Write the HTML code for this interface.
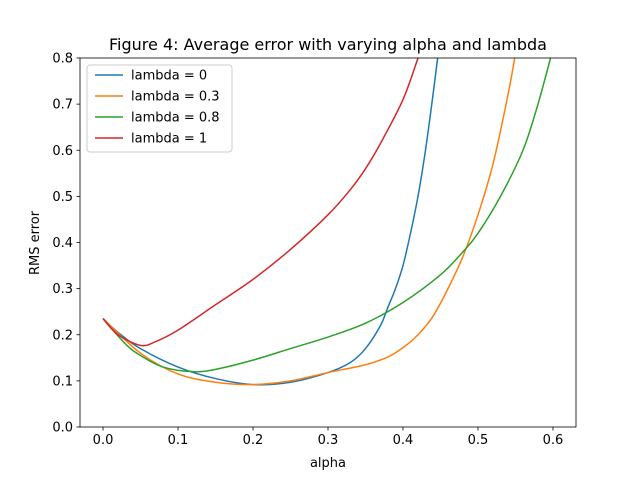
<!DOCTYPE html>
<html><head><meta charset="utf-8"><style>
body{margin:0;background:#fff;}
svg{display:block;font-family:"DejaVu Sans","Liberation Sans",sans-serif;}
</style></head><body>
<svg id="chart" width="640" height="480">
<rect width="640" height="480" fill="#fff"/>
<text x="328" y="50" text-anchor="middle" font-size="16">Figure 4: Average error with varying alpha and lambda</text>
<g id="plot"></g>
<text x="328" y="467" text-anchor="middle" font-size="13">alpha</text>
<text x="0" y="0" transform="translate(39,243) rotate(-90)" text-anchor="middle" font-size="13">RMS error</text>
</svg>
<script>
const xTicks=[0.0,0.1,0.2,0.3,0.4,0.5,0.6];
const yTicks=[0.0,0.1,0.2,0.3,0.4,0.5,0.6,0.7,0.8];
const seriesNames=["lambda = 0","lambda = 0.3","lambda = 0.8","lambda = 1"];
const colors=["#1f77b4","#ff7f0e","#2ca02c","#d62728"];
const alpha0=[0,0.02,0.05,0.1,0.15,0.2,0.25,0.3,0.33,0.35,0.37,0.38,0.39,0.4,0.41,0.42,0.43,0.44,0.45];
const err0=[0.235,0.205,0.17,0.13,0.105,0.092,0.097,0.118,0.14,0.17,0.22,0.26,0.3,0.35,0.42,0.5,0.6,0.72,0.85];
const alpha03=[0,0.05,0.1,0.15,0.2,0.25,0.3,0.35,0.38,0.4,0.42,0.44,0.46,0.48,0.5,0.52,0.54,0.55];
const err03=[0.235,0.16,0.115,0.097,0.092,0.1,0.118,0.135,0.152,0.172,0.2,0.24,0.3,0.37,0.46,0.57,0.72,0.81];
const alpha08=[0,0.03,0.05,0.08,0.12,0.15,0.2,0.25,0.3,0.35,0.4,0.45,0.48,0.5,0.53,0.56,0.58,0.6];
const err08=[0.235,0.18,0.155,0.13,0.12,0.125,0.145,0.17,0.195,0.225,0.27,0.33,0.38,0.42,0.5,0.6,0.7,0.82];
const alpha1=[0,0.02,0.05,0.07,0.1,0.15,0.2,0.25,0.3,0.33,0.35,0.37,0.4,0.42,0.43];
const err1=[0.235,0.2,0.177,0.185,0.21,0.265,0.32,0.385,0.46,0.515,0.56,0.615,0.71,0.8,0.85];
const allX=[alpha0,alpha03,alpha08,alpha1];
const allY=[err0,err03,err08,err1];

const L=80,R=576,T=58,B=427,xmin=-0.0307,xmax=0.6307,ymin=0,ymax=0.8;
const sx=v=>L+(v-xmin)/(xmax-xmin)*(R-L);
const sy=v=>B-(v-ymin)/(ymax-ymin)*(B-T);
const NS="http://www.w3.org/2000/svg";
const g=document.getElementById('plot');
function mk(tag,attrs,parent){const e=document.createElementNS(NS,tag);for(const k in attrs)e.setAttribute(k,attrs[k]);(parent||g).appendChild(e);return e;}
function smooth(pts){
  let d='M'+pts[0][0]+','+pts[0][1];
  for(let i=0;i<pts.length-1;i++){
    const p0=pts[Math.max(i-1,0)],p1=pts[i],p2=pts[i+1],p3=pts[Math.min(i+2,pts.length-1)];
    const c1=[p1[0]+(p2[0]-p0[0])/6,p1[1]+(p2[1]-p0[1])/6];
    const c2=[p2[0]-(p3[0]-p1[0])/6,p2[1]-(p3[1]-p1[1])/6];
    d+=' C'+c1[0]+','+c1[1]+' '+c2[0]+','+c2[1]+' '+p2[0]+','+p2[1];
  }
  return d;
}
const defs=mk('defs',{});
const cp=mk('clipPath',{id:'clip'},defs);
mk('rect',{x:L,y:T,width:R-L,height:B-T},cp);
const lines=mk('g',{'clip-path':'url(#clip)'});
allX.forEach((xs,i)=>{
  const pts=xs.map((x,j)=>[sx(x),sy(allY[i][j])]);
  const p=mk('path',{d:smooth(pts),fill:'none',stroke:colors[i],'stroke-width':1.5,'stroke-linejoin':'round'},lines);
  
  
});
const frame=mk('rect',{x:L,y:T,width:R-L,height:B-T,fill:'none',stroke:'#000','stroke-width':0.8});


xTicks.forEach(t=>{
  mk('line',{x1:sx(t),x2:sx(t),y1:B,y2:B+3.5,stroke:'#000','stroke-width':0.8});
  const tx=mk('text',{x:sx(t),y:B+17,'text-anchor':'middle','font-size':13});
  tx.textContent=t.toFixed(1);
  
  
});
yTicks.forEach(t=>{
  mk('line',{x1:L-3.5,x2:L,y1:sy(t),y2:sy(t),stroke:'#000','stroke-width':0.8});
  const tx=mk('text',{x:L-7,y:sy(t)+4.5,'text-anchor':'end','font-size':13});
  tx.textContent=t.toFixed(1);
  
  
});
const lg=mk('g',{});


mk('rect',{x:87,y:65,width:145,height:87,rx:3,fill:'#fff','fill-opacity':0.8,stroke:'#ccc'},lg);
seriesNames.forEach((n,i)=>{
  const y=75+i*21;
  const e=mk('g',{},lg);
  
  
  mk('line',{x1:95,x2:123,y1:y,y2:y,stroke:colors[i],'stroke-width':1.5},e);
  const t=mk('text',{x:131,y:y+4.5,'font-size':13},e);
  t.textContent=n;
});
</script>
</body></html>
